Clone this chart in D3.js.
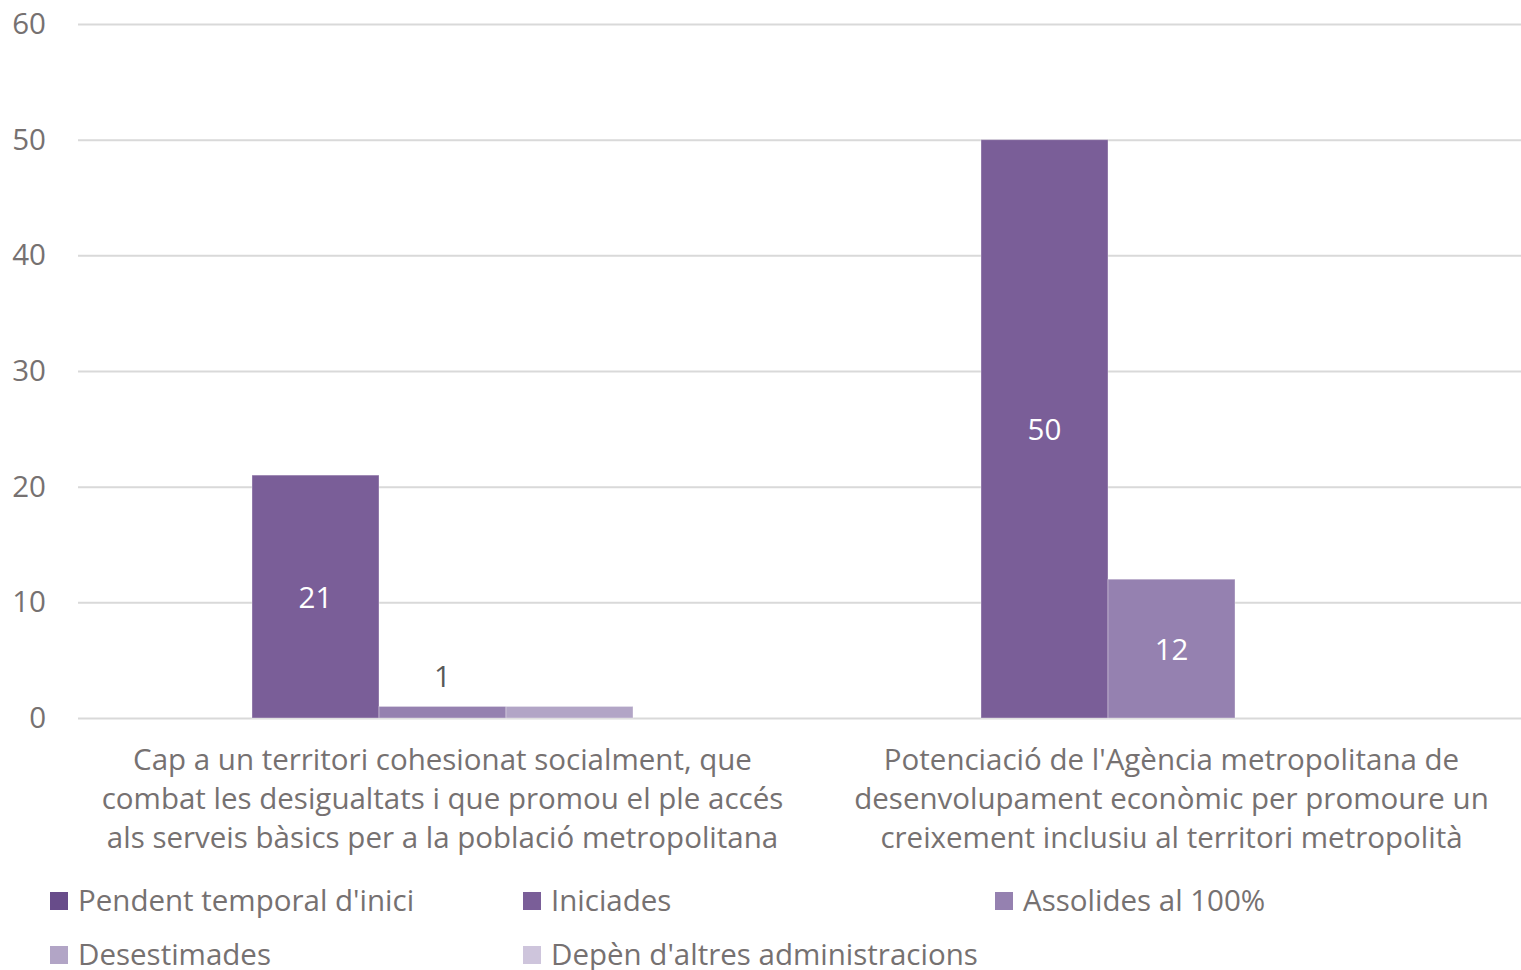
<!DOCTYPE html>
<html>
<head>
<meta charset="utf-8">
<script src="https://cdn.jsdelivr.net/npm/d3@7"></script>
<style>
  html, body { margin: 0; padding: 0; background: #fff; overflow: hidden; }
  svg { display: block; font-family: "Open Sans", sans-serif; }
</style>
</head>
<body>
<div id="chart"></div>
<script>
// ---------- data
const categories = [
  ["Cap a un territori cohesionat socialment, que", "combat les desigualtats i que promou el ple accés", "als serveis bàsics per a la població metropolitana"],
  ["Potenciació de l'Agència metropolitana de", "desenvolupament econòmic per promoure un", "creixement inclusiu al territori metropolità"]
];
const seriesNames = ["Pendent temporal d'inici", "Iniciades", "Assolides al 100%", "Desestimades", "Depèn d'altres administracions"];
const seriesColors = ["#684c8a", "#7a5e98", "#9581b0", "#b2a5c6", "#cec5dc"];
const values = [
  [0, 21, 1, 1, 0],
  [0, 50, 12, 0, 0]
];
const labelledSeries = ["Iniciades", "Assolides al 100%"];
const yTicks = [0, 10, 20, 30, 40, 50, 60];

// ---------- dimensions
const width = 1521, height = 970;
const plot = { left: 78, right: 1536, top: 24, bottom: 718 };
const fontSize = 29.5;

const svg = d3.select("#chart").append("svg")
  .attr("width", width)
  .attr("height", height);

// ---------- scales
const catIdx = categories.map((d, i) => i);
const x0 = d3.scaleBand().domain(catIdx).range([plot.left, plot.right]).padding(0);
const x1 = d3.scaleBand().domain(seriesNames).range([0, x0.bandwidth()])
  .paddingInner(0).paddingOuter(0.37);
const y = d3.scaleLinear().domain([0, 60]).range([plot.bottom, plot.top]);

// ---------- grid + y axis
const yAxis = d3.axisLeft(y).tickValues(yTicks).tickSize(-(plot.right - plot.left)).tickPadding(32);
svg.append("g")
  .attr("transform", `translate(${plot.left},0)`)
  .call(yAxis)
  .call(g => g.select(".domain").remove())
  .call(g => g.selectAll(".tick line").attr("stroke", "#d9d9d9").attr("stroke-width", 2))
  .call(g => g.selectAll(".tick text")
    .attr("fill", "#767171")
    .attr("font-size", fontSize)
    .attr("font-family", "Open Sans, sans-serif"));

// ---------- bars
const groups = svg.append("g").selectAll("g")
  .data(values)
  .join("g")
  .attr("transform", (d, i) => `translate(${x0(i)},0)`);

groups.selectAll("rect")
  .data(d => d.map((v, j) => ({ v, s: seriesNames[j], c: seriesColors[j] })))
  .join("rect")
  .attr("x", d => x1(d.s))
  .attr("width", x1.bandwidth())
  .attr("y", d => y(d.v))
  .attr("height", d => y(0) - y(d.v))
  .attr("fill", d => d.c)
  .attr("stroke", "rgba(255,255,255,0.35)")
  .attr("stroke-width", 1);

// ---------- data labels
groups.selectAll("text.lbl")
  .data(d => d.map((v, j) => ({ v, s: seriesNames[j] }))
    .filter(d => d.v > 0 && labelledSeries.includes(d.s)))
  .join("text")
  .attr("class", "lbl")
  .attr("x", d => x1(d.s) + x1.bandwidth() / 2)
  .attr("y", d => (y(0) - y(d.v)) > 40 ? (y(d.v) + y(0)) / 2 + 1 : y(d.v) - 30)
  .attr("dy", "0.35em")
  .attr("text-anchor", "middle")
  .attr("font-size", fontSize)
  .attr("fill", d => (y(0) - y(d.v)) > 40 ? "#ffffff" : "#595959")
  .text(d => d.v);

// ---------- category labels
svg.append("g").selectAll("text")
  .data(categories)
  .join("text")
  .attr("x", (d, i) => x0(i) + x0.bandwidth() / 2)
  .attr("y", 760)
  .attr("text-anchor", "middle")
  .attr("font-size", fontSize)
  .attr("fill", "#767171")
  .selectAll("tspan")
  .data(d => d)
  .join("tspan")
  .attr("x", function () { return d3.select(this.parentNode).attr("x"); })
  .attr("y", (d, i) => 760 + i * 39)
  .attr("dy", "0.35em")
  .text(d => d);

// ---------- legend
const legendCols = [50, 523, 995];
const legend = svg.append("g").selectAll("g")
  .data(seriesNames)
  .join("g")
  .attr("transform", (d, i) => `translate(${legendCols[i % 3]},${901 + Math.floor(i / 3) * 54})`);

legend.append("rect")
  .attr("x", 0).attr("y", -9)
  .attr("width", 18).attr("height", 18)
  .attr("fill", (d, i) => seriesColors[i]);

legend.append("text")
  .attr("x", 28)
  .attr("dy", "0.35em")
  .attr("font-size", fontSize)
  .attr("fill", "#767171")
  .text(d => d);
</script>
</body>
</html>
